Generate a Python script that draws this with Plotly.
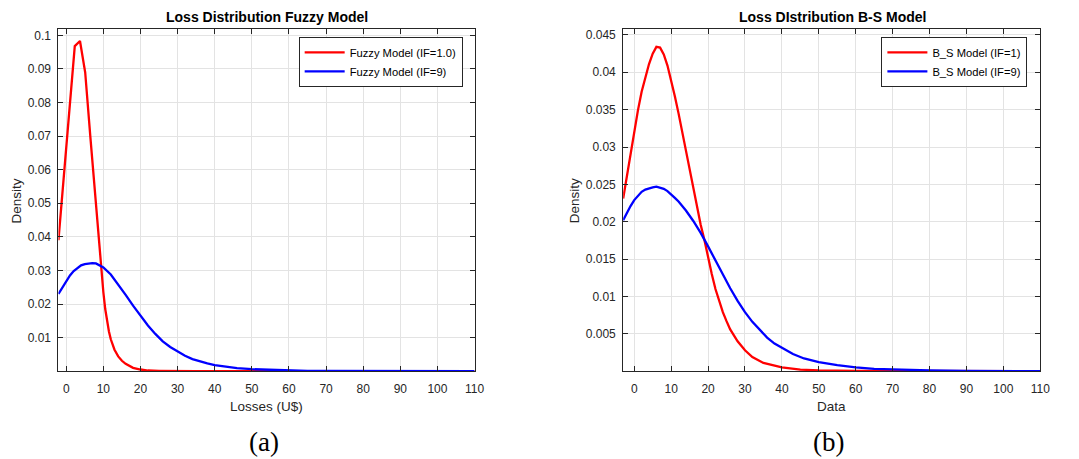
import plotly.graph_objects as go

# ---------------- data ----------------
fz_red_x = [-2.1, -0.7, 0.8, 2.3, 3.7, 5.1, 6.5, 7.9, 9.3, 10.0, 10.5, 11.0, 11.5, 12.0,
            12.5, 13.0, 14.0, 15.0, 16.0, 17.0, 18.0, 20.0, 22.0, 25.0, 30.0, 35.0, 50.0,
            70.0, 90.0, 110.0]
fz_red_y = [0.039, 0.057, 0.077, 0.0968, 0.0983, 0.089, 0.0697, 0.0503, 0.031, 0.0235,
            0.0185, 0.0148, 0.0118, 0.0095, 0.0078, 0.0064, 0.0044, 0.0031, 0.0022, 0.0015,
            0.0010, 0.0005, 0.0002, 0.0001, 0.00002, 0.0, 0.0, 0.0, 0.0, 0.0]

fz_blue_x = [-2.1, -1, 0, 1, 2, 3, 4, 5, 6, 7, 8, 9, 10, 12, 14, 16, 18, 20, 22, 24, 26,
             28, 30, 32, 34, 36, 38, 40, 43, 46, 50, 55, 60, 65, 70, 80, 90, 110]
fz_blue_y = [0.0230, 0.0251, 0.0270, 0.0285, 0.0298, 0.0308, 0.0315, 0.0319, 0.0321,
             0.0322, 0.0321, 0.0316, 0.0309, 0.0288, 0.0259, 0.0227, 0.0195, 0.0164,
             0.0136, 0.0111, 0.0089, 0.0072, 0.0058, 0.0046, 0.0036, 0.0029, 0.0023,
             0.0018, 0.0013, 0.0009, 0.0006, 0.0004, 0.0002, 0.0001, 0.00006, 0.00002,
             0.0, 0.0]

bs_red_x = [-3, -2, -1, 0, 1, 2, 3, 4, 5, 6, 7, 8, 9, 10, 11, 12, 13, 14, 15, 16, 17, 18,
            19, 20, 21, 22, 23, 24, 25, 26, 27, 28, 30, 32, 35, 40, 45, 50, 60, 80, 110]
bs_red_y = [0.0231, 0.0262, 0.0293, 0.0322, 0.0349, 0.0374, 0.0394, 0.0411, 0.0425,
            0.0434, 0.0433, 0.0424, 0.0409, 0.0390, 0.0368, 0.0345, 0.0320, 0.0294,
            0.0269, 0.0245, 0.0220, 0.0196, 0.0176, 0.0152, 0.0130, 0.0110, 0.0093,
            0.0079, 0.0067, 0.0056, 0.0048, 0.0040, 0.0028, 0.0019, 0.0011, 0.0005,
            0.0002, 0.0001, 0.00003, 0.0, 0.0]

bs_blue_x = [-3, -2, -1, 0, 1, 2, 3, 4, 5, 6, 7, 8, 9, 10, 11, 12, 13, 14, 16, 18, 20, 22,
             24, 26, 28, 30, 32, 34, 36, 38, 40, 43, 46, 50, 55, 60, 65, 70, 80, 90, 110]
bs_blue_y = [0.0202, 0.0212, 0.0221, 0.0229, 0.0235, 0.0240, 0.0243, 0.0245, 0.0246,
             0.0247, 0.0246, 0.0244, 0.0241, 0.0237, 0.0232, 0.0227, 0.0221, 0.0215,
             0.0201, 0.0185, 0.0167, 0.0148, 0.0129, 0.0111, 0.0094, 0.0079, 0.0066,
             0.0055, 0.0045, 0.0037, 0.0031, 0.0023, 0.0017, 0.0012, 0.0008, 0.0005,
             0.0003, 0.0002, 0.0001, 0.00003, 0.0]

x_ticks = [0, 10, 20, 30, 40, 50, 60, 70, 80, 90, 100, 110]
x_tick_text = [str(v) for v in x_ticks]
fz_y_ticks = [0.01, 0.02, 0.03, 0.04, 0.05, 0.06, 0.07, 0.08, 0.09, 0.1]
fz_y_text = ["0.01", "0.02", "0.03", "0.04", "0.05", "0.06", "0.07", "0.08", "0.09", "0.1"]
bs_y_ticks = [0.005, 0.01, 0.015, 0.02, 0.025, 0.03, 0.035, 0.04, 0.045]
bs_y_text = ["0.005", "0.01", "0.015", "0.02", "0.025", "0.03", "0.035", "0.04", "0.045"]

# ---------------- figure ----------------
W, H = 1079, 459
FONT = "Liberation Sans, Arial, sans-serif"
AX = "#262626"
GRID = "#e3e3e3"

fig = go.Figure()
lw = 2.3
fig.add_trace(go.Scatter(x=fz_red_x, y=fz_red_y, mode="lines", name="Fuzzy Model (IF=1.0)",
                         line=dict(color="#ff0000", width=lw), xaxis="x", yaxis="y", legend="legend"))
fig.add_trace(go.Scatter(x=fz_blue_x, y=fz_blue_y, mode="lines", name="Fuzzy Model (IF=9)",
                         line=dict(color="#0000ff", width=lw), xaxis="x", yaxis="y", legend="legend"))
fig.add_trace(go.Scatter(x=bs_red_x, y=bs_red_y, mode="lines", name="B_S Model (IF=1)",
                         line=dict(color="#ff0000", width=lw), xaxis="x2", yaxis="y2", legend="legend2"))
fig.add_trace(go.Scatter(x=bs_blue_x, y=bs_blue_y, mode="lines", name="B_S Model (IF=9)",
                         line=dict(color="#0000ff", width=lw), xaxis="x2", yaxis="y2", legend="legend2"))

ydom = [1 - 371 / H, 1 - 28 / H]

def xaxis(dom, rng, anchor):
    return dict(domain=dom, range=rng, anchor=anchor, tickvals=x_ticks, ticktext=x_tick_text,
                showline=True, linecolor=AX, linewidth=1, mirror="ticks", ticks="inside",
                ticklen=5, tickcolor=AX, showgrid=True, gridcolor=GRID, gridwidth=1,
                zeroline=False, tickfont=dict(family=FONT, size=12, color=AX),
                ticklabelstandoff=6)

def yaxis(rng, tv, tt, anchor):
    return dict(domain=ydom, range=rng, anchor=anchor, tickvals=tv, ticktext=tt,
                showline=True, linecolor=AX, linewidth=1, mirror="ticks", ticks="inside",
                ticklen=5, tickcolor=AX, showgrid=True, gridcolor=GRID, gridwidth=1,
                zeroline=False, tickfont=dict(family=FONT, size=12, color=AX),
                ticklabelstandoff=4)

legend_common = dict(bgcolor="white", bordercolor=AX, borderwidth=1,
                     font=dict(family=FONT, size=11.2, color="#000000"),
                     xanchor="right", yanchor="top", tracegroupgap=0, itemwidth=40)

fig.update_layout(
    width=W, height=H, margin=dict(l=0, r=0, t=0, b=0),
    paper_bgcolor="white", plot_bgcolor="white",
    xaxis=xaxis([59 / W, 479 / W], [-2.1, 110], "y"),
    yaxis=yaxis([0, 0.1019], fz_y_ticks, fz_y_text, "x"),
    xaxis2=xaxis([629 / W, 1050 / W], [-3, 110], "y2"),
    yaxis2=yaxis([0, 0.0458], bs_y_ticks, bs_y_text, "x2"),
    legend=dict(x=467 / W, y=1 - 36 / H, **legend_common),
    legend2=dict(x=1037 / W, y=1 - 36 / H, **legend_common),
    showlegend=True,
)

def ann(text, x, y, size, bold=False, angle=0, family=FONT, color="#000000"):
    t = f"<b>{text}</b>" if bold else text
    fig.add_annotation(text=t, x=x / W, y=1 - y / H, xref="paper", yref="paper",
                       xanchor="center", yanchor="middle", showarrow=False, textangle=angle,
                       font=dict(family=family, size=size, color=color))

ann("Loss Distribution Fuzzy Model", 269, 16, 14, bold=True)
ann("Loss DIstribution B-S Model", 840, 16, 14, bold=True)
ann("Losses (U$)", 269, 406, 13.5, color=AX)
ann("Data", 839, 406, 13.5, color=AX)
ann("Density", 17, 200, 13.5, angle=-90, color=AX)
ann("Density", 580, 200, 13.5, angle=-90, color=AX)
SERIF = "Liberation Serif, Times New Roman, serif"
ann("(a)", 266, 442, 27, family=SERIF)
ann("(b)", 836, 442, 27, family=SERIF)

fig.write_html("out.html")
